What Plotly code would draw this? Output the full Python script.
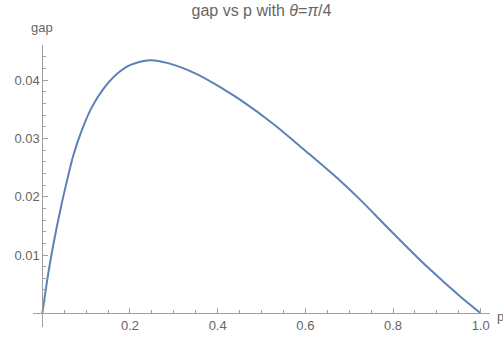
import plotly.graph_objects as go
import numpy as np

p_vals = [0, 0.013, 0.0244, 0.0442, 0.0556, 0.0707, 0.0898, 0.1127, 0.139, 0.170,
          0.200, 0.2457, 0.287, 0.3525, 0.413, 0.451, 0.527, 0.604, 0.680,
          0.725, 0.801, 0.878, 0.954, 1.0]
gap_vals = [0, 0.00655, 0.0115, 0.0188, 0.0225, 0.02706, 0.03133, 0.03532, 0.03846, 0.04103,
            0.04256, 0.04342, 0.04291, 0.04103, 0.03846, 0.03664, 0.03248, 0.02763, 0.0227,
            0.0195, 0.01368, 0.00797, 0.00284, 0]

x_ticks = [0.2, 0.4, 0.6, 0.8, 1.0]
x_labels = ["0.2", "0.4", "0.6", "0.8", "1.0"]
y_ticks = [0.01, 0.02, 0.03, 0.04]
y_labels = ["0.01", "0.02", "0.03", "0.04"]
x_minor = [round(v, 3) for v in np.arange(0.05, 1.0001, 0.05) if round(v, 3) not in x_ticks]
y_minor = [round(v, 4) for v in np.arange(0.002, 0.0459, 0.002) if round(v, 4) not in y_ticks]

title_text = "gap vs p with <i>θ</i>=<i>π</i>/4"

W, H = 503, 337
L, R, T, B = 33, 13, 45, 10
x0_px, x1_px = 42.3, 480.7
y0_px, y001_px = 313.3, 255.0
xs = (x1_px - x0_px)
ys = (y0_px - y001_px) / 0.01
xr = [(L - x0_px) / xs, (W - R - x0_px) / xs]
yr = [(y0_px - (H - B)) / ys, (y0_px - T) / ys]

axis_col = "#a0a0a0"
lab_col = "#666666"
font = "Liberation Sans, Arial, sans-serif"

fig = go.Figure()
fig.add_trace(go.Scatter(x=p_vals, y=gap_vals, mode="lines",
                         line=dict(color="#5e81b5", width=2, shape="spline", smoothing=0.9),
                         hoverinfo="skip", showlegend=False))

xpos = ((H - B) - y0_px) / (H - B - T)
ypos = (x0_px - L) / (W - L - R)

fig.update_layout(
    width=W, height=H,
    margin=dict(l=L, r=R, t=T, b=B, autoexpand=False),
    paper_bgcolor="white", plot_bgcolor="white",
    font=dict(family=font, size=13, color=lab_col),
    title=dict(text=title_text, x=0.5, xref="paper", xanchor="center",
               y=1 - 10 / H, yref="container", yanchor="middle",
               font=dict(family=font, size=16, color=lab_col)),
    xaxis=dict(range=xr, anchor="free", position=xpos, showgrid=False, zeroline=False,
               automargin=False,
               showline=True, linecolor=axis_col, linewidth=1,
               tickmode="array", tickvals=x_ticks, ticktext=x_labels,
               ticks="inside", ticklen=5, tickcolor=axis_col, tickwidth=1,
               tickfont=dict(size=13, color=lab_col),
               minor=dict(tickmode="array", tickvals=x_minor, ticks="inside",
                          ticklen=3, tickcolor=axis_col, tickwidth=1, showgrid=False)),
    yaxis=dict(range=yr, anchor="free", position=ypos, showgrid=False, zeroline=False,
               automargin=False,
               showline=True, linecolor=axis_col, linewidth=1,
               tickmode="array", tickvals=y_ticks, ticktext=y_labels,
               ticks="inside", ticklen=5, tickcolor=axis_col, tickwidth=1,
               tickfont=dict(size=13, color=lab_col),
               minor=dict(tickmode="array", tickvals=y_minor, ticks="inside",
                          ticklen=3, tickcolor=axis_col, tickwidth=1, showgrid=False)),
    annotations=[
        dict(text="gap", xref="paper", yref="paper", x=ypos, y=1 + (T - 28) / (H - T - B),
             xanchor="center", yanchor="middle", showarrow=False,
             font=dict(family=font, size=13, color=lab_col)),
        dict(text="p", xref="paper", yref="paper", x=1 + (495 - (W - R)) / (W - L - R),
             y=((H - B) - 316) / (H - T - B), xanchor="left", yanchor="middle",
             showarrow=False, font=dict(family=font, size=13, color=lab_col)),
    ],
)

fig.write_html("out.html",
               config={"displayModeBar": False, "staticPlot": True},
               post_script="document.body.style.margin='0';document.body.style.overflow='hidden';")
